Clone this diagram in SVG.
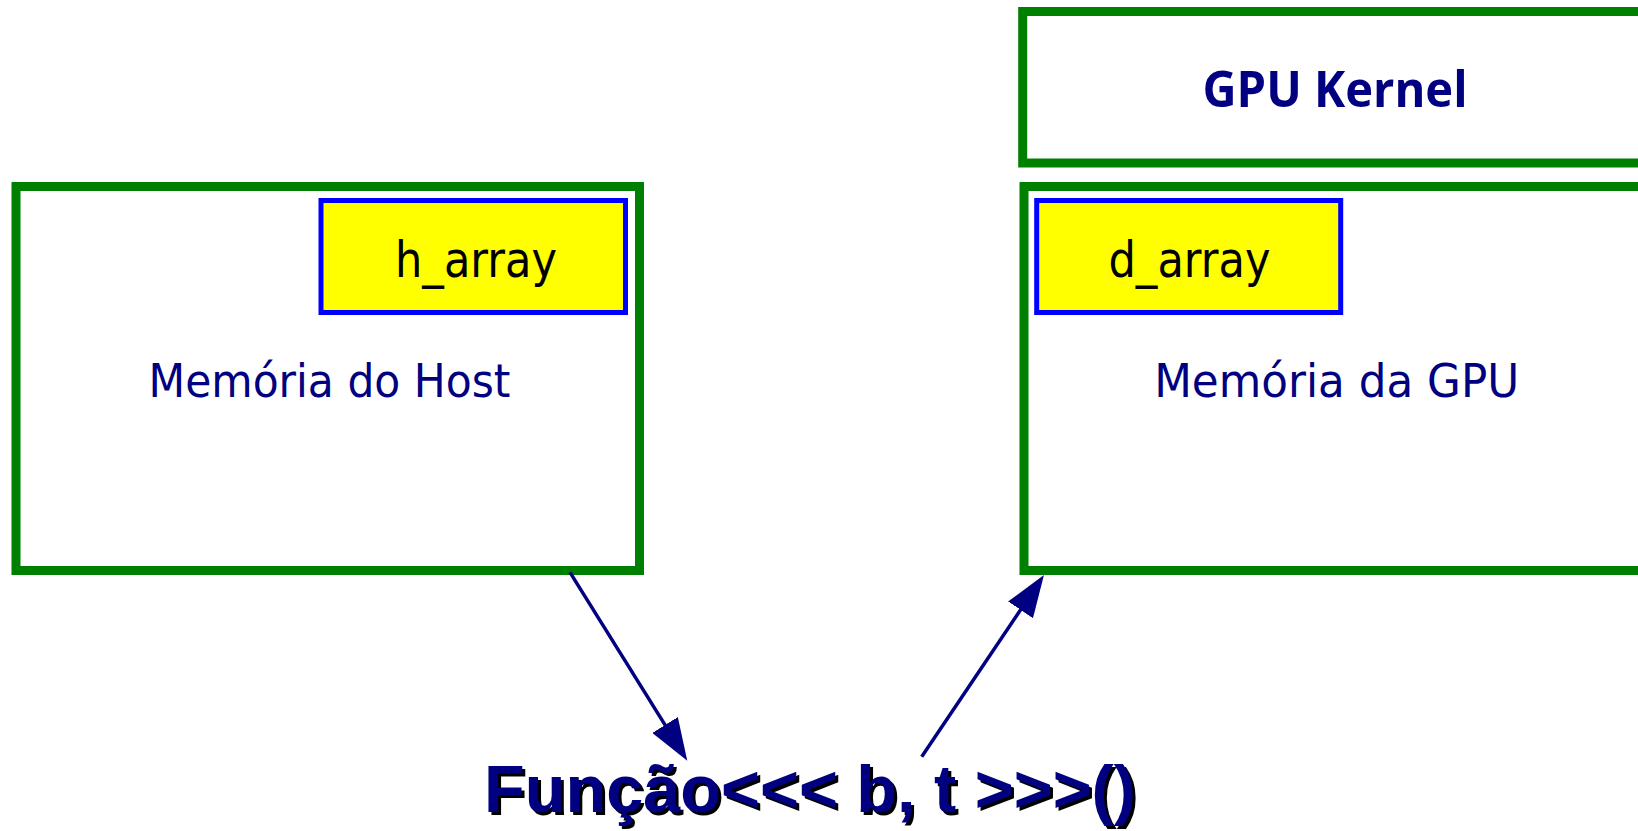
<svg xmlns="http://www.w3.org/2000/svg" width="1638" height="831" viewBox="0 0 1638 831">
  <style>
    .box { fill: #ffffff; stroke: #008000; stroke-width: 9; }
    .var { fill: #ffff00; stroke: #0000ff; stroke-width: 5; }
    .varlbl { font-family: "DejaVu Sans", "Liberation Sans", sans-serif; font-size: 49px; fill: #000000; text-anchor: middle; }
    .memlbl { font-family: "DejaVu Sans", "Liberation Sans", sans-serif; font-size: 47px; fill: #000080; text-anchor: middle; }
    .kernlbl { font-family: "Open Sans", "DejaVu Sans", sans-serif; font-weight: bold; font-size: 51px; fill: #000080; text-anchor: middle; }
    .func { font-family: "Liberation Sans", Arial, sans-serif; font-weight: bold; font-size: 67px; }
    .conn { stroke: #000080; stroke-width: 3.5; fill: none; marker-end: url(#arrow); }
  </style>
  <defs>
    <marker id="arrow" viewBox="0 0 42 30" refX="22" refY="15" markerWidth="42" markerHeight="30" markerUnits="userSpaceOnUse" orient="auto">
      <path d="M0,0 L42,15 L0,30 z" fill="#000080"/>
    </marker>
  </defs>
  <rect width="1638" height="831" fill="#ffffff"/>

  <g id="host-memory">
    <rect class="box" x="16" y="186.5" width="623.5" height="384"/>
    <text class="memlbl" x="329.5" y="397" textLength="362" lengthAdjust="spacingAndGlyphs">Memória do Host</text>
  </g>
  <g id="h-array">
    <rect class="var" x="321" y="200.5" width="304.5" height="112"/>
    <text class="varlbl" x="476" y="277" textLength="162" lengthAdjust="spacingAndGlyphs">h_array</text>
  </g>

  <g id="gpu-kernel">
    <rect class="box" x="1022.7" y="11.5" width="640" height="151.5"/>
    <text class="kernlbl" x="1335" y="107.3" textLength="265" lengthAdjust="spacingAndGlyphs">GPU Kernel</text>
  </g>

  <g id="gpu-memory">
    <rect class="box" x="1024" y="186.5" width="640" height="384"/>
    <text class="memlbl" x="1336.7" y="397" textLength="365" lengthAdjust="spacingAndGlyphs">Memória da GPU</text>
  </g>
  <g id="d-array">
    <rect class="var" x="1036.7" y="200.5" width="304" height="112"/>
    <text class="varlbl" x="1189.5" y="277" textLength="162" lengthAdjust="spacingAndGlyphs">d_array</text>
  </g>

  <g id="funcao">
    <text class="func" x="487" y="815" fill="#000000" textLength="652" lengthAdjust="spacingAndGlyphs">Função&lt;&lt;&lt; b, t &gt;&gt;&gt;()</text>
    <text class="func" x="484" y="812" fill="#000080" textLength="652" lengthAdjust="spacingAndGlyphs">Função&lt;&lt;&lt; b, t &gt;&gt;&gt;()</text>
  </g>

  <g id="connectors">
    <line class="conn" x1="570" y1="572.3" x2="676.7" y2="743.7"/>
    <line class="conn" x1="921.7" y1="756.7" x2="1032.8" y2="591.6"/>
  </g>
</svg>
